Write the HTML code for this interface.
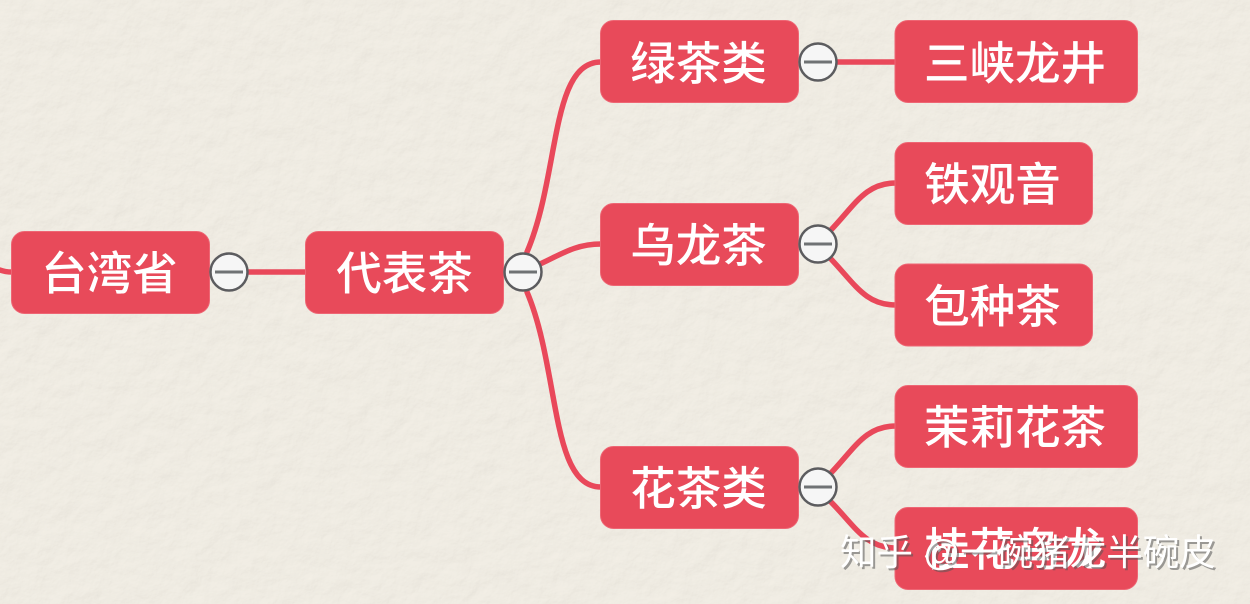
<!DOCTYPE html>
<html lang="zh">
<head>
<meta charset="utf-8">
<style>
html,body{margin:0;padding:0;width:1250px;height:604px;overflow:hidden;background:#efebe2}
svg{display:block}
.t{font-family:"Liberation Sans","Noto Sans CJK SC",sans-serif;font-size:45.5px;fill:#fff;text-anchor:middle;dominant-baseline:central;font-weight:500}
.w{font-family:"Liberation Sans","Noto Sans CJK SC",sans-serif;font-size:36.5px;fill:#fff;font-weight:400}
.s{font-family:"Liberation Sans","Noto Sans CJK SC",sans-serif;font-size:36.5px;fill:#555;opacity:.55}
.c{fill:none;stroke:#e9485a;stroke-width:5.5;stroke-linecap:round}
.b{fill:#e84a5a;stroke:#ee6674;stroke-width:1}
.k{fill:#f6f6f6;stroke:#5c5c5f;stroke-width:2.5}
.m{stroke:#6f7274;stroke-width:3}
</style>
</head>
<body>
<svg width="1250" height="604" viewBox="0 0 1250 604" xmlns="http://www.w3.org/2000/svg">
<defs>
<filter id="paper" x="0" y="0" width="100%" height="100%">
<feTurbulence type="fractalNoise" baseFrequency="0.045" numOctaves="5" seed="11"/>
<feDiffuseLighting surfaceScale="1" diffuseConstant="1.06" lighting-color="#f0ece3">
<feDistantLight azimuth="60" elevation="70"/>
</feDiffuseLighting>
</filter>
</defs>
<rect width="1250" height="604" fill="#efebe2"/>
<rect width="1250" height="604" filter="url(#paper)" opacity=".7"/>

<path class="c" d="M0 270 Q5 272 12 272"/>
<path class="c" d="M247 272H306"/>
<path class="c" d="M527 252C560 175 550 62 601 62"/>
<path class="c" d="M540 264C560 255 575 244 601 244"/>
<path class="c" d="M527 292C560 370 550 487 601 487"/>
<path class="c" d="M836 62H896"/>
<path class="c" d="M830 231C855 205 865 183 896 183"/>
<path class="c" d="M830 258C855 284 865 305 896 305"/>
<path class="c" d="M830 474C855 448 865 426 896 426"/>
<path class="c" d="M830 501C855 526 865 548 896 548"/>

<rect class="b" x="11.500" y="231.500" width="198" height="82" rx="13"/>
<rect class="b" x="305.500" y="231.500" width="198" height="82" rx="13"/>
<rect class="b" x="600.500" y="20.500" width="198" height="82" rx="13"/>
<rect class="b" x="600.500" y="203.500" width="198" height="82" rx="13"/>
<rect class="b" x="600.500" y="446.500" width="198" height="82" rx="13"/>
<rect class="b" x="895" y="20.500" width="242.500" height="82" rx="13"/>
<rect class="b" x="895" y="142.500" width="197.500" height="82" rx="13"/>
<rect class="b" x="895" y="264" width="197.500" height="82" rx="13"/>
<rect class="b" x="895" y="385.500" width="242.500" height="82" rx="13"/>
<rect class="b" x="895" y="507.500" width="242.500" height="82" rx="13"/>

<text class="t" x="109.500" y="274">台湾省</text>
<text class="t" x="404.500" y="274">代表茶</text>
<text class="t" x="698.500" y="64">绿茶类</text>
<text class="t" x="698.500" y="246">乌龙茶</text>
<text class="t" x="698.500" y="489">花茶类</text>
<text class="t" x="1015" y="64">三峡龙井</text>
<text class="t" x="992.500" y="185">铁观音</text>
<text class="t" x="992.500" y="307">包种茶</text>
<text class="t" x="1015" y="428">茉莉花茶</text>
<text class="t" x="1015" y="550">桂花乌龙</text>

<circle class="k" cx="229" cy="272" r="18.500"/><path class="m" d="M215 272H243"/>
<circle class="k" cx="523" cy="272" r="18.500"/><path class="m" d="M509 272H537"/>
<circle class="k" cx="818" cy="62" r="18.500"/><path class="m" d="M804 62H832"/>
<circle class="k" cx="818" cy="244" r="18.500"/><path class="m" d="M804 244H832"/>
<circle class="k" cx="818" cy="487" r="18.500"/><path class="m" d="M804 487H832"/>

<text class="s" x="842" y="567">知乎 @一碗猪龙半碗皮</text>
<text class="w" x="840" y="565">知乎 @一碗猪龙半碗皮</text>
</svg>
</body>
</html>
